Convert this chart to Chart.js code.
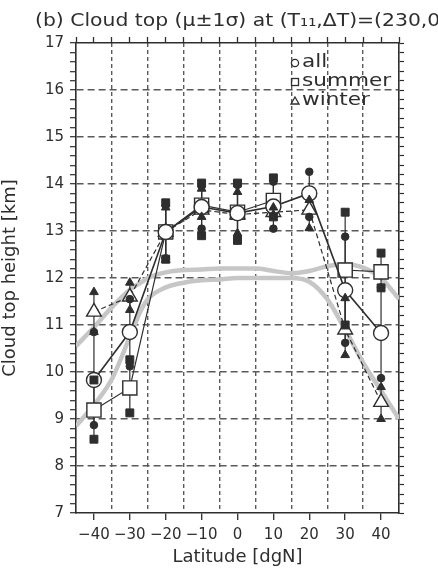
<!DOCTYPE html>
<html>
<head>
<meta charset="utf-8">
<script src="https://cdn.jsdelivr.net/npm/chart.js@4.4.0/dist/chart.umd.min.js"></script>
<style>
  html, body { margin: 0; padding: 0; background: #fff; }
</style>
</head>
<body>
<canvas id="myChart" width="438" height="572"></canvas>
<script>
// latitudes of the zonal bins
let lats = [-40, -30, -20, -10, 0, 10, 20, 30, 40];

// mean and +/- 1 sigma, cloud top height [km]
let allMean    = [9.83, 10.85, 12.98, 13.51, 13.38, 13.52, 13.8, 11.74, 10.83];
let allHi      = [10.85, 11.55, 13.55, 13.95, 13.98, 14.05, 14.26, 12.88, 11.8];
let allLo      = [8.87, 10.12, 12.42, 13.05, 12.87, 13.05, 13.3, 10.62, 9.87];

let summerMean = [9.19, 9.66, 12.98, 13.55, 13.4, 13.65, null, 12.17, 12.13];
let summerHi   = [9.83, 10.26, 13.6, 14.02, 14.02, 14.13, null, 13.4, 12.53];
let summerLo   = [8.57, 9.13, 12.4, 12.9, 12.8, 13.3, null, 11.0, 11.79];

let winterMean = [11.28, 11.6, 12.98, 13.45, 13.35, 13.4, 13.45, 10.9, 9.36];
let winterHi   = [11.7, 11.9, 13.5, 13.9, 13.83, 13.5, 13.66, 11.57, 9.68];
let winterLo   = [10.85, 11.32, 12.38, 13.3, 12.95, 13.35, 13.06, 10.36, 9.0];

// the two light grey reference curves
let grayX     = [-45, -40, -35, -30, -27, -25, -20, -15, -10, -5, 0, 5, 10, 15, 20, 25, 30, 35, 40, 45];
let grayUpper = [10.55, 10.95, 11.38, 11.75, 11.9, 12.0, 12.12, 12.17, 12.18, 12.2, 12.2, 12.2, 12.15, 12.1, 12.15, 12.25, 12.3, 12.22, 12.0, 11.55];
let grayLower = [8.85, 9.3, 9.85, 10.75, 11.3, 11.55, 11.8, 11.9, 11.95, 11.97, 12.0, 12.0, 12.0, 12.0, 11.92, 11.55, 10.9, 10.2, 9.6, 9.0];

let xTicks = [-45, -40, -35, -30, -25, -20, -15, -10, -5, 0, 5, 10, 15, 20, 25, 30, 35, 40, 45];
let yTicks = [];
for (let i = 0; i <= 50; i++) yTicks.push(Math.round((7 + i * 0.2) * 10) / 10);

const ink = "#2e2e2e";
const gridInk = "#5a5a5a";
const clear = "rgba(0,0,0,0)";

function pts(xs, ys) {
  return xs.map((x, i) => ({ x: x, y: ys[i] }));
}

// vertical sigma bars: pairs of points split by nulls
function bars(lo, hi) {
  let out = [];
  lats.forEach((x, i) => {
    if (lo[i] == null || hi[i] == null) return;
    out.push({ x: x, y: lo[i] }, { x: x, y: hi[i] }, { x: x, y: null });
  });
  return out;
}

function isInt(v) { return Math.abs(v - Math.round(v)) < 1e-6; }

// wide plotter-style text
function wideText(c, txt, x, y, sx) {
  c.save();
  c.translate(x, y);
  c.scale(sx, 1);
  c.fillText(txt, 0, 0);
  c.restore();
}

let headerPlugin = {
  id: "header",
  afterDraw(chart) {
    let c = chart.ctx;
    c.save();
    c.fillStyle = ink;
    c.font = "18px 'DejaVu Sans'";
    c.textBaseline = "middle";
    c.textAlign = "left";
    wideText(c, "(b) Cloud top (\u03bc\u00b11\u03c3) at (T\u2081\u2081,\u0394T)=(230,0)", 35, 21, 1.13);

    // legend in the upper right corner
    c.strokeStyle = ink;
    c.lineWidth = 1.3;
    let lx = 295;
    c.beginPath(); c.arc(lx, 63, 3.6, 0, Math.PI * 2); c.stroke();
    wideText(c, "all", 302, 62, 1.2);
    c.strokeRect(lx - 3.5, 78.5, 7, 7);
    wideText(c, "summer", 302, 81, 1.2);
    c.beginPath(); c.moveTo(lx, 97); c.lineTo(lx + 4, 104); c.lineTo(lx - 4, 104); c.closePath(); c.stroke();
    wideText(c, "winter", 302, 100, 1.2);
    c.restore();
  }
};

let ctx = document.getElementById("myChart");

let datasets = [
  // filled +/- sigma markers (on top)
  { data: pts(lats, allHi).concat(pts(lats, allLo)), pointStyle: "circle", pointRadius: 3.8, showLine: false,
    backgroundColor: ink, borderColor: ink, borderWidth: 1 },
  { data: pts(lats, summerHi).concat(pts(lats, summerLo)), pointStyle: "rect", pointRadius: 5.6, showLine: false,
    backgroundColor: ink, borderColor: ink, borderWidth: 1 },
  { data: pts(lats, winterHi).concat(pts(lats, winterLo)), pointStyle: "triangle", pointRadius: 5, showLine: false,
    backgroundColor: ink, borderColor: ink, borderWidth: 1 },
  // means with connecting lines
  { data: pts(lats, allMean), showLine: true, borderColor: ink, borderWidth: 1.6,
    pointStyle: "circle", pointRadius: 7.5, pointBackgroundColor: "#fff", pointBorderColor: ink, pointBorderWidth: 1.4 },
  { data: pts(lats, summerMean), showLine: true, spanGaps: false, borderColor: ink, borderWidth: 1.2,
    pointStyle: "rect", pointRadius: 10, pointBackgroundColor: "#fff", pointBorderColor: ink, pointBorderWidth: 1.4 },
  { data: pts(lats, winterMean), showLine: true, borderColor: ink, borderWidth: 1.2, borderDash: [5, 3],
    pointStyle: "triangle", pointRadius: 8.5, pointBackgroundColor: "#fff", pointBorderColor: ink, pointBorderWidth: 1.4 },
  // sigma bars
  { data: bars(allLo, allHi), showLine: true, spanGaps: false, borderColor: ink, borderWidth: 1.2, pointRadius: 0 },
  { data: bars(summerLo, summerHi), showLine: true, spanGaps: false, borderColor: ink, borderWidth: 1.2, pointRadius: 0 },
  { data: bars(winterLo, winterHi), showLine: true, spanGaps: false, borderColor: ink, borderWidth: 1.2, pointRadius: 0 },
  // grey curves (bottom)
  { data: pts(grayX, grayUpper), showLine: true, borderColor: "#c6c6c6", borderWidth: 4.5, pointRadius: 0,
    cubicInterpolationMode: "monotone" },
  { data: pts(grayX, grayLower), showLine: true, borderColor: "#c6c6c6", borderWidth: 4.5, pointRadius: 0,
    cubicInterpolationMode: "monotone" },
];

let tickFont = { family: "DejaVu Sans", size: 15 };
let titleFont = { family: "DejaVu Sans", size: 18 };

let myChart = new Chart(ctx, {
  type: "scatter",
  data: { datasets: datasets },
  plugins: [headerPlugin],
  options: {
    responsive: false,
    animation: false,
    devicePixelRatio: 1,
    layout: { padding: 0 },
    plugins: { legend: { display: false }, tooltip: { enabled: false } },
    scales: {
      x: {
        type: "linear", position: "bottom", min: -45, max: 45,
        afterBuildTicks: (s) => { s.ticks = xTicks.map((v) => ({ value: v })); },
        afterFit: (s) => { s.height = 59; },
        ticks: {
          autoSkip: false, maxRotation: 0, color: ink, font: tickFont, padding: 6,
          callback: (v) => (v % 10 === 0 ? (v < 0 ? "\u2212" + Math.abs(v) : String(v)) : ""),
        },
        grid: {
          color: (c) => (c.tick && Math.abs(c.tick.value % 10) === 5 && Math.abs(c.tick.value) !== 45 ? gridInk : clear),
          lineWidth: 1.4,
          tickColor: (c) => (c.tick && c.tick.value % 10 === 0 ? ink : clear),
          tickLength: 7, tickWidth: 1.3, tickBorderDash: [],
        },
        border: { display: true, color: ink, width: 1.6, dash: [4, 3] },
        title: { display: true, text: "Latitude [dgN]", color: ink, font: titleFont, padding: { top: 0, bottom: 4 } },
      },
      x2: {
        type: "linear", axis: "x", position: "top", min: -45, max: 45,
        afterBuildTicks: (s) => { s.ticks = xTicks.map((v) => ({ value: v })); },
        afterFit: (s) => { s.height = 43; },
        ticks: { display: false },
        grid: { color: clear, drawOnChartArea: false, tickColor: ink, tickLength: 6, tickWidth: 1.3 },
        border: { display: true, color: ink, width: 1.6 },
      },
      y: {
        type: "linear", position: "left", min: 7, max: 17,
        afterBuildTicks: (s) => { s.ticks = yTicks.map((v) => ({ value: v })); },
        afterFit: (s) => { s.width = 76; },
        ticks: {
          autoSkip: false, color: ink, font: tickFont, padding: 6,
          callback: (v) => (isInt(v) ? String(Math.round(v)) : ""),
        },
        grid: {
          color: (c) => (c.tick && isInt(c.tick.value) && c.tick.value > 7 && c.tick.value < 17 ? gridInk : clear),
          lineWidth: 1.4,
          tickColor: ink, tickLength: 6, tickWidth: 1.2, tickBorderDash: [],
        },
        border: { display: true, color: ink, width: 1.6, dash: [7, 4] },
        title: { display: true, text: "Cloud top height [km]", color: ink, font: titleFont, padding: { top: 0, bottom: 0 } },
      },
      y2: {
        type: "linear", axis: "y", position: "right", min: 7, max: 17,
        afterBuildTicks: (s) => { s.ticks = yTicks.map((v) => ({ value: v })); },
        afterFit: (s) => { s.width = 39; },
        ticks: { display: false },
        grid: { color: clear, drawOnChartArea: false, tickColor: ink, tickLength: 5, tickWidth: 1.2 },
        border: { display: true, color: ink, width: 1.6 },
      },
    },
  },
});
</script>
</body>
</html>
